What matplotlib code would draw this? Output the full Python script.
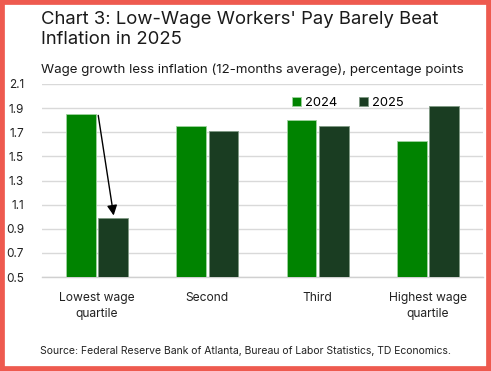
import numpy as np
import matplotlib
matplotlib.use("Agg")
import matplotlib.pyplot as plt
from matplotlib.patches import Rectangle

# dados
categorias = ["Lowest wage\nquartile", "Second", "Third", "Highest wage\nquartile"]
valores_2024 = [1.85, 1.75, 1.80, 1.63]
valores_2025 = [0.99, 1.71, 1.75, 1.92]
anos = ["2024", "2025"]
ticks_y = [0.5, 0.7, 0.9, 1.1, 1.3, 1.5, 1.7, 1.9, 2.1]

COR_2024 = "#008300"
COR_2025 = "#1A3D22"
BORDA = "#EE5A4F"

plt.rcParams["font.family"] = ["Inter", "DejaVu Sans"]

fig = plt.figure(figsize=(4.91, 3.71), dpi=100)
ax = fig.add_axes([42 / 491, 1 - 277 / 371, (483 - 42) / 491, (277 - 84) / 371])

x = np.arange(len(categorias))
largura = 0.27
ax.bar(x - 0.147, valores_2024, largura, bottom=0, color=COR_2024,
       edgecolor="#9ed39e", linewidth=0.6, label=anos[0], zorder=3)
ax.bar(x + 0.147, valores_2025, largura, bottom=0, color=COR_2025,
       edgecolor="#7f9a84", linewidth=0.6, label=anos[1], zorder=3)

ax.set_xlim(-0.5, 3.5)
ax.set_ylim(0.5, 2.1)
ax.set_yticks(ticks_y)
ax.set_yticklabels([f"{v:.1f}" for v in ticks_y], fontsize=8.5, color="#222222")
ax.set_xticks(x)
ax.set_xticklabels(categorias, fontsize=8.7, color="#222222", linespacing=1.45)
ax.tick_params(axis="both", length=0)
ax.tick_params(axis="y", pad=13)
ax.tick_params(axis="x", pad=11)
ax.grid(axis="y", color="#d9d9d9", linewidth=1.0, zorder=0)
for lado in ["top", "right", "left"]:
    ax.spines[lado].set_visible(False)
ax.spines["bottom"].set_color("#d0d0d0")
ax.spines["bottom"].set_linewidth(1.0)

# seta no quartil mais baixo
ax.annotate("", xy=(0.15, 1.01), xytext=(0.01, 1.84),
            arrowprops=dict(arrowstyle="-|>", color="black", lw=1.0,
                            mutation_scale=15, shrinkA=0, shrinkB=0), zorder=5)

leg = ax.legend(loc="upper left", bbox_to_anchor=(0.55, 0.975), ncol=2, frameon=False,
                fontsize=9.3, handlelength=0.7, handleheight=0.7, handletextpad=0.3,
                columnspacing=1.7, borderaxespad=0.2)

# titulos
fig.text(41 / 491, 1 - 11 / 371, "Chart 3: Low-Wage Workers' Pay Barely Beat\nInflation in 2025",
         fontsize=13.3, color="#1a1a1a", va="top", ha="left", linespacing=1.22)
fig.text(41 / 491, 1 - 63 / 371, "Wage growth less inflation (12-months average), percentage points",
         fontsize=9.6, color="#1a1a1a", va="top", ha="left")
fig.text(40 / 491, 1 - 346 / 371,
         "Source: Federal Reserve Bank of Atlanta, Bureau of Labor Statistics, TD Economics.",
         fontsize=7.5, color="#222222", va="top", ha="left")

# moldura vermelha
fig.add_artist(Rectangle((0, 0), 1, 1, transform=fig.transFigure, fill=False,
                         edgecolor=BORDA, linewidth=7, clip_on=True))

fig.savefig("out.png", dpi=100)
